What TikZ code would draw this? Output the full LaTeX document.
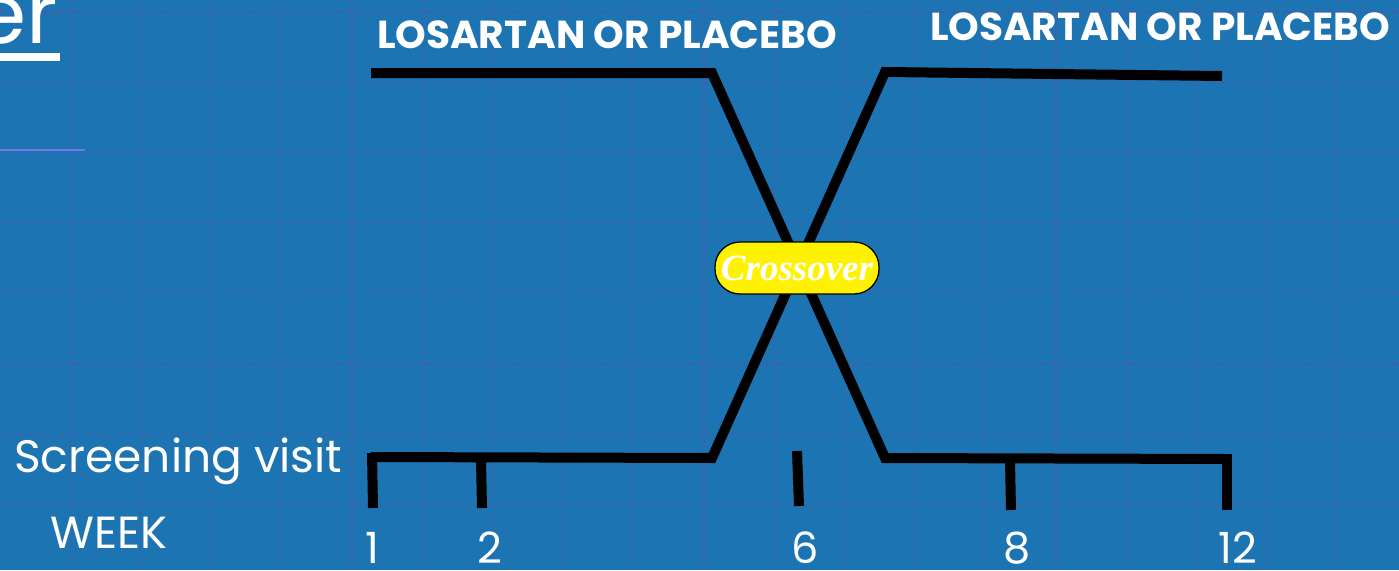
\documentclass[tikz,border=0pt]{standalone}
\usepackage{fontspec}
\setmainfont{Poppins}
\newfontfamily\crossfont{Liberation Serif}
\definecolor{bgblue}{RGB}{29,116,178}
\definecolor{gridc}{RGB}{78,88,170}
\definecolor{thinline}{RGB}{110,125,235}
\tikzset{
  thick black/.style={line width=10pt, black, line join=miter},
  tickline/.style={line width=10pt, black},
  gridline/.style={gridc, line width=1.3pt, dash pattern=on 3pt off 2.5pt},
  labeltext/.style={text=white, inner sep=0pt},
  pill/.style={fill=yellow, draw=black, line width=1.3pt, rounded corners=25pt,
     minimum width=164pt, minimum height=52pt, inner sep=0pt, text=white}
}
\begin{document}
\begin{tikzpicture}[x=1pt,y=-1pt]
\fill[bgblue] (0,0) rectangle (1399,570);
\useasboundingbox (0,0) rectangle (1399,570);
\clip (0,0) rectangle (1399,570);
\foreach \k in {1,...,19} { \draw[gridline] (70.4*\k,0) -- (70.4*\k,570); }
\foreach \k in {0,...,7} { \draw[gridline] (0,12+70.4*\k) -- (1399,12+70.4*\k); }

% partial title
\node[labeltext, anchor=base east, font=\fontsize{84}{90}\selectfont] (title) at (58,43) {er};
\fill[white] (0,53) rectangle (60,61);
\draw[thinline, line width=2pt] (0,150) -- (85,150);

% coordinates
\coordinate (TL1) at (371,73);
\coordinate (TL2) at (712,73);
\coordinate (BR1) at (885,458);
\coordinate (BR2) at (1228,459);
\coordinate (BL1) at (371,457);
\coordinate (BL2) at (712,458);
\coordinate (TR1) at (885,72);
\coordinate (TR2) at (1222,76);
\draw[thick black] (TL1) -- (TL2) -- (BR1) -- (BR2);
\draw[thick black] (TR2) -- (TR1) -- (BL2) -- (BL1);

% ticks
\coordinate (t1a) at (372,453); \coordinate (t1b) at (373,508);
\coordinate (t2a) at (481,461); \coordinate (t2b) at (482,508);
\coordinate (t6a) at (797,451); \coordinate (t6b) at (799,506);
\coordinate (t8a) at (1010,461); \coordinate (t8b) at (1011,510);
\coordinate (t12a) at (1227,454); \coordinate (t12b) at (1227,510);
\draw[tickline] (t1a) -- (t1b);
\draw[tickline] (t2a) -- (t2b);
\draw[tickline] (t6a) -- (t6b);
\draw[tickline] (t8a) -- (t8b);
\draw[tickline] (t12a) -- (t12b);

\node[pill, font=\crossfont\bfseries\itshape\fontsize{37}{40}\selectfont] (cross) at (797,268) {Crossover};

\node[labeltext, font=\bfseries\fontsize{39}{42}\selectfont] (lp1) at (607,35) {LOSARTAN OR PLACEBO};
\node[labeltext, font=\bfseries\fontsize{39}{42}\selectfont] (lp2) at (1160,27) {LOSARTAN OR PLACEBO};

\node[labeltext, anchor=base west, font=\fontsize{45.5}{50}\selectfont] (screen) at (14,472) {Screening visit};
\node[labeltext, anchor=base west, font=\fontsize{45}{50}\selectfont] (week) at (50,548) {WEEK};
\foreach \n/\x in {1/372, 2/490, 6/805, 8/1017, 12/1238} {
  \node[labeltext, anchor=base, text depth=0pt, font=\fontsize{43}{46}\selectfont] (w\n) at (\x,563) {\n};
}
\end{tikzpicture}
\end{document}
